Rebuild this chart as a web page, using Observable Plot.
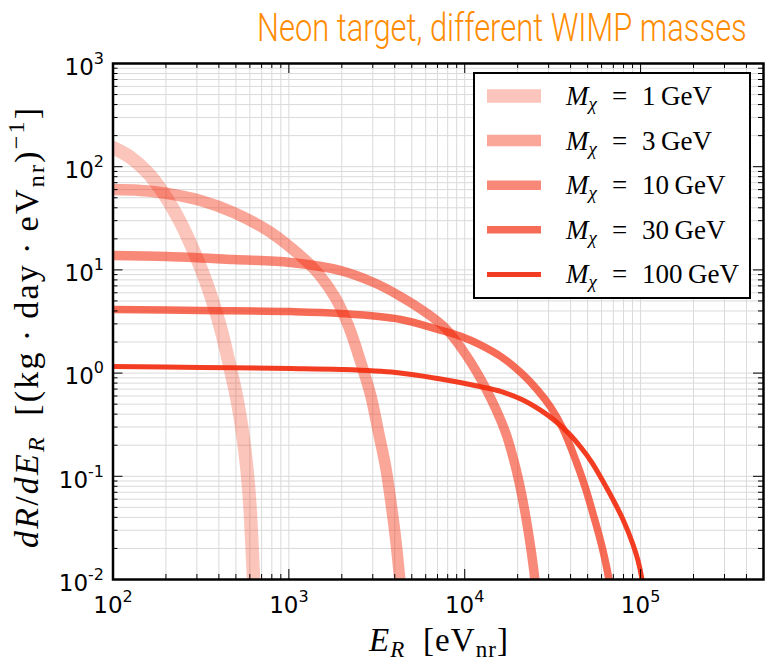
<!DOCTYPE html>
<html>
<head>
<meta charset="utf-8">
<script src="https://cdn.jsdelivr.net/npm/d3@7"></script>
<script src="https://cdn.jsdelivr.net/npm/@observablehq/plot@0.6"></script>
<style>
  body { margin: 0; background: #fff; }
</style>
</head>
<body>
<div id="chart"></div>
<script>
// WIMP masses (GeV) and the differential recoil rate
const masses = [1, 3, 10, 30, 100];

const energy1 = [100, 126, 157, 194, 242, 295, 336, 383, 420, 460, 505, 546, 575, 598, 614, 630, 647];
const rate1 = [153, 123, 88, 55, 28.8, 13.8, 7.9, 4.04, 2.31, 1.19, 0.58, 0.26, 0.127, 0.058, 0.0255, 0.01, 0.005];

const energy3 = [100, 143, 204, 315, 485, 757, 1023, 1279, 1517, 1846, 2189, 2595, 2922, 3245, 3556, 3795, 4055, 4273, 4385];
const rate3 = [60, 58.8, 55, 47, 36, 24.1, 16.5, 11.8, 8.63, 5.28, 2.83, 1.19, 0.607, 0.26, 0.122, 0.058, 0.024, 0.01, 0.006];

const energy10 = [100, 204, 485, 1023, 1972, 3041, 4326, 6011, 7798, 10140, 13180, 16910, 19030, 21130, 23160, 24720, 25400];
const rate10 = [13.8, 13.5, 12.6, 11.8, 9.86, 7.55, 5.52, 3.86, 2.7, 1.513, 0.71, 0.278, 0.142, 0.0652, 0.0267, 0.0122, 0.0078];

const energy30 = [100, 315, 1023, 1972, 4326, 7030, 9500, 12180, 16030, 21130, 26070, 30900, 36150, 42850, 48270, 53580, 60300, 66070, 68700];
const rate30 = [4.13, 4.04, 3.95, 3.78, 3.31, 2.65, 2.27, 1.89, 1.449, 0.991, 0.678, 0.464, 0.29, 0.142, 0.0796, 0.0437, 0.0209, 0.01, 0.006];

const energy100 = [100, 315, 1023, 1972, 4055, 7030, 12180, 16030, 21130, 27100, 32960, 39130, 45810, 52900, 60300, 69650, 79430, 90580, 96640, 101900, 104600];
const rate100 = [1.16, 1.133, 1.108, 1.084, 1.013, 0.886, 0.741, 0.664, 0.555, 0.435, 0.34, 0.26, 0.19, 0.136, 0.0931, 0.0596, 0.0381, 0.0218, 0.0153, 0.01, 0.007];

const energies = [energy1, energy3, energy10, energy30, energy100];
const rates = [rate1, rate3, rate10, rate30, rate100];

// tick exponents (labels read 10^k)
const xTickExponents = [2, 3, 4, 5];
const yTickExponents = [-2, -1, 0, 1, 2, 3];

const titleText = "Neon target, different WIMP masses";

// styling
const lineColor = "rgb(242,45,15)";
const lineWidths = [13.5, 11.5, 9.5, 7.5, 5];
const lineAlpha = [0.28, 0.42, 0.57, 0.7, 0.92];

const W = 769, H = 664;
const margin = {left: 112.5, right: 6, top: 63, bottom: 85};
const innerW = W - margin.left - margin.right;
const innerH = H - margin.top - margin.bottom;
const xDomain = [100, 5e5];
const yDomain = [1e-2, 1e3];

const rows = masses.flatMap((mass, i) =>
  energies[i].map((E, j) => ({mass, E, R: rates[i][j]}))
);

const xMajor = xTickExponents.map(k => 10 ** k);
const yMajor = yTickExponents.map(k => 10 ** k);
const xMinor = d3.range(2, 6).flatMap(k => d3.range(2, 10).map(f => f * 10 ** k))
  .filter(v => v > xDomain[0] && v < xDomain[1]);
const yMinor = d3.range(-2, 3).flatMap(k => d3.range(2, 10).map(f => +(f * 10 ** k).toPrecision(3)))
  .filter(v => v > yDomain[0] && v < yDomain[1]);

const gridStyle = {stroke: "#dadada", strokeOpacity: 1, strokeWidth: 1};
const tickStyle = {stroke: "black", strokeWidth: 1};
const tickFont = {fontSize: 23, fontFamily: "DejaVu Sans", fill: "black"};

const chart = Plot.plot({
  width: W,
  height: H,
  marginLeft: margin.left,
  marginRight: margin.right,
  marginTop: margin.top,
  marginBottom: margin.bottom,
  style: {fontFamily: "DejaVu Sans", fontSize: "20px", background: "white", color: "black"},
  x: {type: "log", domain: xDomain, axis: null, label: null},
  y: {type: "log", domain: yDomain, axis: null, label: null},
  marks: [
    Plot.gridX(xMinor, gridStyle),
    Plot.gridY(yMinor, gridStyle),
    Plot.gridX(xMajor, gridStyle),
    Plot.gridY(yMajor, gridStyle),
    ...masses.map((mass, i) =>
      Plot.line(rows.filter(d => d.mass === mass), {
        x: "E", y: "R",
        stroke: lineColor,
        strokeOpacity: lineAlpha[i],
        strokeWidth: lineWidths[i],
        curve: "catmull-rom",
        clip: true
      })
    ),
    // inward ticks on all four sides
    Plot.ruleX(xMajor, {...tickStyle, insetTop: innerH - 10}),
    Plot.ruleX(xMajor, {...tickStyle, insetBottom: innerH - 10}),
    Plot.ruleX(xMinor, {...tickStyle, insetTop: innerH - 5}),
    Plot.ruleX(xMinor, {...tickStyle, insetBottom: innerH - 5}),
    Plot.ruleY(yMajor, {...tickStyle, insetRight: innerW - 10}),
    Plot.ruleY(yMajor, {...tickStyle, insetLeft: innerW - 10}),
    Plot.ruleY(yMinor, {...tickStyle, insetRight: innerW - 5}),
    Plot.ruleY(yMinor, {...tickStyle, insetLeft: innerW - 5}),
    Plot.frame({stroke: "black", strokeWidth: 2.5}),
    Plot.axisX(xMajor, {
      anchor: "bottom", tickSize: 0, tickPadding: 17.5, label: null,
      tickFormat: d => String(Math.round(Math.log10(d))),
      ...tickFont
    }),
    Plot.axisY(yMajor, {
      anchor: "left", tickSize: 0, tickPadding: 9, dy: 4, label: null,
      tickFormat: d => String(Math.round(Math.log10(d))),
      ...tickFont
    })
  ]
});

document.getElementById("chart").appendChild(chart);
const svg = d3.select(chart);

// tick labels as 10 with a raised exponent
svg.selectAll('g[aria-label="x-axis tick label"] text, g[aria-label="y-axis tick label"] text')
  .each(function () {
    const k = this.textContent;
    const t = d3.select(this);
    t.text(null);
    t.append("tspan").text("10");
    t.append("tspan").attr("font-size", 16).attr("dy", -11).text(k);
  });

function addRuns(textSel, runs) {
  runs.forEach(r => {
    const t = textSel.append("tspan").text(r.t);
    if (r.it) t.attr("font-style", "italic");
    if (r.size) t.attr("font-size", r.size);
    if (r.dy) t.attr("dy", r.dy);
    if (r.x != null) t.attr("x", r.x);
  });
}

const serif = "'Liberation Serif', 'DejaVu Serif', serif";

// title: a light face, narrowed horizontally to a fixed width
const title = svg.append("text")
  .attr("text-anchor", "start")
  .attr("font-family", "Roboto, 'Open Sans', sans-serif")
  .attr("font-weight", 300)
  .attr("font-size", 39)
  .attr("fill", "#FF8C00")
  .text(titleText);
const naturalWidth = title.node().getComputedTextLength() || 490;
title.attr("transform", `translate(257,41) scale(${Math.min(1, 490 / naturalWidth)},1)`);

// x axis label
const xl = svg.append("text")
  .attr("x", 369).attr("y", 651)
  .attr("text-anchor", "start")
  .attr("textLength", 139)
  .attr("font-family", serif).attr("font-size", 33).attr("fill", "black");
addRuns(xl, [
  {t: "E", it: true},
  {t: "R", it: true, size: 23, dy: 6},
  {t: "\u2002[eV", dy: -6},
  {t: "nr", size: 23, dy: 6},
  {t: "]", dy: -6}
]);

// y axis label
const yl = svg.append("text")
  .attr("transform", `translate(38,548) rotate(-90)`)
  .attr("text-anchor", "start")
  .attr("textLength", 440)
  .attr("font-family", serif).attr("font-size", 34).attr("fill", "black");
addRuns(yl, [
  {t: "dR", it: true},
  {t: "/"},
  {t: "dE", it: true},
  {t: "R", it: true, size: 24, dy: 6},
  {t: "\u2002[(kg\u2009\u00b7\u2009day\u2009\u00b7\u2009eV", dy: -6},
  {t: "nr", size: 24, dy: 6},
  {t: ")", dy: -6},
  {t: "\u22121", size: 24, dy: -14},
  {t: "]", dy: 14}
]);

// legend
const lg = svg.append("g");
lg.append("rect")
  .attr("x", 474).attr("y", 73).attr("width", 276).attr("height", 225)
  .attr("fill", "white").attr("stroke", "black").attr("stroke-width", 2);
masses.forEach((mass, i) => {
  const cy = 96 + i * 44.6;
  lg.append("line")
    .attr("x1", 487).attr("x2", 541).attr("y1", cy).attr("y2", cy)
    .attr("stroke", lineColor).attr("stroke-opacity", lineAlpha[i])
    .attr("stroke-width", lineWidths[i]);
  const t = lg.append("text")
    .attr("y", cy + 9)
    .attr("text-anchor", "start")
    .attr("font-family", serif).attr("font-size", 27).attr("fill", "black");
  addRuns(t, [
    {t: "M", it: true, x: 566},
    {t: "\u03c7", it: true, size: 19, dy: 5},
    {t: "=", x: 612, dy: -5},
    {t: String(mass), x: 642},
    {t: "\u2009GeV"}
  ]);
});
</script>
</body>
</html>
